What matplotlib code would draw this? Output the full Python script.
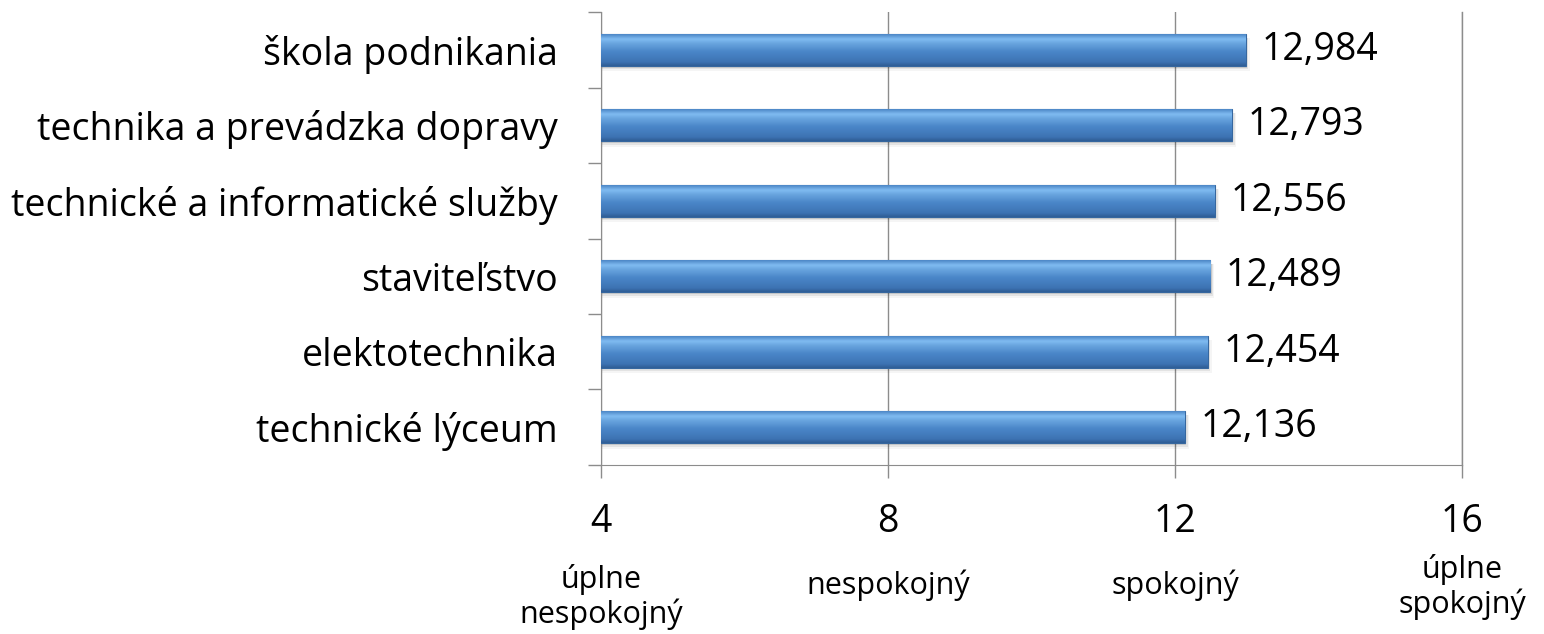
import matplotlib.pyplot as plt
from matplotlib.colors import LinearSegmentedColormap
from matplotlib.transforms import blended_transform_factory
import numpy as np

plt.rcParams["font.family"] = ["Open Sans", "DejaVu Sans"]

categories = ["technické lýceum", "elektotechnika", "staviteľstvo",
              "technické a informatické služby", "technika a prevádzka dopravy",
              "škola podnikania"]
values = [12.136, 12.454, 12.489, 12.556, 12.793, 12.984]
value_labels = ["12,136", "12,454", "12,489", "12,556", "12,793", "12,984"]
x_ticks = [4, 8, 12, 16]
x_sub = ["úplne\nnespokojný", "nespokojný", "spokojný", "úplne\nspokojný"]

GRID = "#8c8c8c"
BLUE = "#4a86c8"
H = 634

fig = plt.figure(figsize=(15.44, 6.34), dpi=100, facecolor="white")
ax = fig.add_axes([0.3892, 0.2666, 0.5577, 0.7144])
ax.set_xlim(4, 16)
ax.set_ylim(-0.5, len(categories) - 0.5)

y = np.arange(len(categories))
bars = ax.barh(y, values, height=0.42, color=BLUE, edgecolor="#36679f", linewidth=0.8, zorder=3)

# vertical gradient for the glossy look
grad = LinearSegmentedColormap.from_list("bar", [
    (0.0, "#2f5d95"), (0.12, "#3d73b3"), (0.45, "#4a86c8"),
    (0.72, "#6aa6e0"), (0.85, "#80bcf2"), (1.0, "#4c86c6")])
g = np.linspace(0, 1, 64).reshape(-1, 1)
for bar in bars:
    x0 = 4
    x1 = bar.get_x() + bar.get_width()
    y0 = bar.get_y()
    y1 = y0 + bar.get_height()
    # soft shadow under the bar
    for k, a in enumerate([0.10, 0.07, 0.04]):
        ax.fill_between([x0, x1 + 0.02 * (k + 1)], y0 - 0.025 * (k + 1), y1 - 0.05,
                        color="black", alpha=a, lw=0, zorder=2)
    im = ax.imshow(g, extent=[x0, x1, y0, y1], origin="lower", cmap=grad,
                   aspect="auto", zorder=4, interpolation="bicubic")
    im.set_clip_path(bar)

for yi, v, lab in zip(y, values, value_labels):
    ax.text(v + 0.22, yi, lab, va="center", ha="left", fontsize=27, color="black", zorder=5)

ax.set_yticks(y)
ax.set_yticklabels(categories, fontsize=27)
ax.set_yticks(np.arange(-0.5, len(categories), 1), minor=True)
ax.tick_params(axis="y", which="major", length=0, pad=31)
ax.tick_params(axis="y", which="minor", length=9.5, color=GRID, width=1)

ax.set_xticks(x_ticks)
ax.set_xticklabels([str(t) for t in x_ticks], fontsize=27)
ax.tick_params(axis="x", length=9.5, color=GRID, width=1, pad=18)

# descriptive labels under the numeric ticks
trans = blended_transform_factory(ax.transData, fig.transFigure)
sub_y = [597, 585, 585, 587]
for t, lab, yp in zip(x_ticks, x_sub, sub_y):
    ax.text(t, 1 - yp / H, lab, ha="center", va="center", fontsize=22,
            transform=trans, linespacing=1.15)

ax.grid(axis="x", color=GRID, lw=1, zorder=0)
ax.axvline(16, color=GRID, lw=1, clip_on=False, zorder=0)
for s in ["top", "right"]:
    ax.spines[s].set_visible(False)
for s in ["left", "bottom"]:
    ax.spines[s].set_color(GRID)

fig.savefig("out.png", dpi=100, facecolor="white")
plt.close(fig)
